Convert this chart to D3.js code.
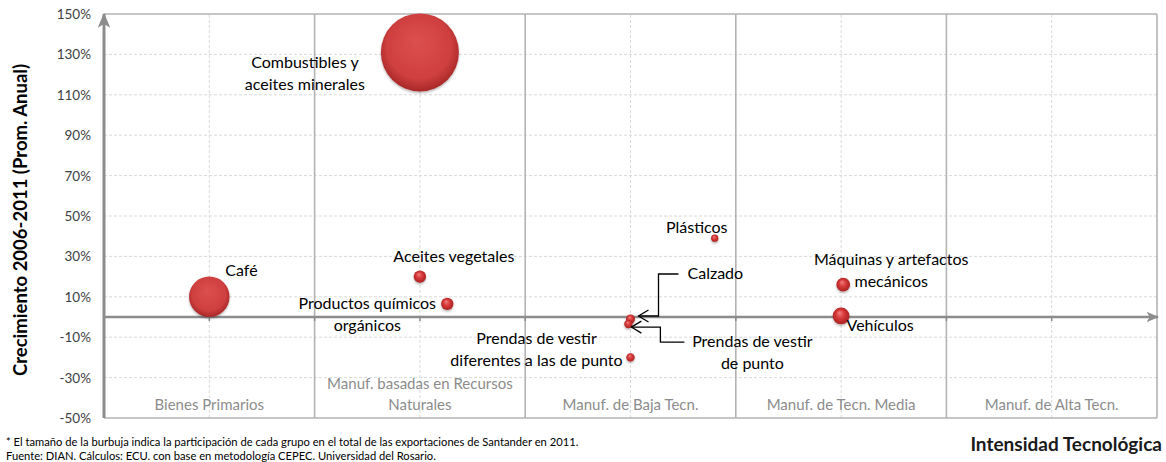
<!DOCTYPE html>
<html>
<head>
<meta charset="utf-8">
<script src="https://cdn.jsdelivr.net/npm/d3@7/dist/d3.min.js"></script>
<style>
  body { margin: 0; background: #fff; }
  svg { font-family: Lato, "Open Sans", sans-serif; }
</style>
</head>
<body>
<svg id="chart" width="1166" height="462"></svg>
<script>
"use strict"

// categories on the x axis (technology intensity)
var categories = [
	["Bienes Primarios"],
	["Manuf. basadas en Recursos", "Naturales"],
	["Manuf. de Baja Tecn."],
	["Manuf. de Tecn. Media"],
	["Manuf. de Alta Tecn."]
];

// product groups
var groups = [
	"Café",
	"Combustibles y aceites minerales",
	"Aceites vegetales",
	"Productos químicos orgánicos",
	"Plásticos",
	"Calzado",
	"Prendas de vestir de punto",
	"Prendas de vestir diferentes a las de punto",
	"Máquinas y artefactos mecánicos",
	"Vehículos"
];
var groupX  = [0.5, 1.5, 1.5, 1.63, 2.9, 2.5, 2.49, 2.5, 3.51, 3.5];
var growth  = [10, 131, 20, 6.5, 39, -1, -3.5, -20, 16, 0.5];      // % promedio anual
var share   = [14, 52, 1.3, 1.3, 0.45, 0.7, 0.6, 0.6, 1.6, 2.4];    // participación %

var yTicks = d3.range(-50, 151, 20);

// label layout: lines + offsets from bubble centre (px), anchor
var labels = [
	{lines: ["Café"],                                   dx: 16,   dy: -26, anchor: "start"},
	{lines: ["Combustibles y", "aceites minerales"],    dx: -115, dy: 11,  anchor: "middle"},
	{lines: ["Aceites vegetales"],                      dx: 34,   dy: -20, anchor: "middle"},
	{lines: ["Productos químicos", "orgánicos"],        dx: -80,  dy: 0,   anchor: "middle"},
	{lines: ["Plásticos"],                              dx: -18,  dy: -10, anchor: "middle"},
	{lines: ["Calzado"],                                dx: 57,   dy: -45, anchor: "start"},
	{lines: ["Prendas de vestir", "de punto"],          dx: 124,  dy: 18,  anchor: "middle"},
	{lines: ["Prendas de vestir", "diferentes a las de punto"], dx: -94, dy: -18, anchor: "middle"},
	{lines: ["Máquinas y artefactos", "mecánicos"],     dx: 48,   dy: -25, anchor: "middle"},
	{lines: ["Vehículos"],                              dx: 39,   dy: 10,  anchor: "middle"}
];

var svg = d3.select("#chart");
var margin = {left: 104, right: 9, top: 14, bottom: 44};
var W = 1166, H = 462;

var x = d3.scaleLinear().domain([0, 5]).range([margin.left, W - margin.right]);
var y = d3.scaleLinear().domain([-50, 150]).range([H - margin.bottom, margin.top]);
var r = d3.scaleSqrt().domain([0, d3.max(share)]).range([0, 39]);

var defs = svg.append("defs");
var grad = defs.append("radialGradient")
	.attr("id", "bubble")
	.attr("cx", "50%").attr("cy", "45%").attr("r", "55%")
	.attr("fx", "45%").attr("fy", "35%");
grad.append("stop").attr("offset", "0%").attr("stop-color", "#dc5050");
grad.append("stop").attr("offset", "75%").attr("stop-color", "#cf3f3f");
grad.append("stop").attr("offset", "100%").attr("stop-color", "#a82828");

var glossy = defs.append("radialGradient")
	.attr("id", "bubbleSmall")
	.attr("cx", "50%").attr("cy", "50%").attr("r", "55%")
	.attr("fx", "40%").attr("fy", "30%");
glossy.append("stop").attr("offset", "0%").attr("stop-color", "#f08080");
glossy.append("stop").attr("offset", "45%").attr("stop-color", "#d83a3a");
glossy.append("stop").attr("offset", "100%").attr("stop-color", "#a51e1e");

var shadow = defs.append("filter").attr("id", "shadow")
	.attr("x", "-30%").attr("y", "-30%").attr("width", "160%").attr("height", "160%");
shadow.append("feDropShadow").attr("dx", 0).attr("dy", 1.5)
	.attr("stdDeviation", 1.2).attr("flood-color", "#000").attr("flood-opacity", 0.3);

defs.append("marker")
	.attr("id", "axisArrow")
	.attr("viewBox", "0 0 12 10")
	.attr("refX", 11).attr("refY", 5)
	.attr("markerWidth", 5).attr("markerHeight", 5)
	.attr("markerUnits", "strokeWidth")
	.attr("orient", "auto")
	.append("path")
	.attr("d", "M0,0 L12,5 L0,10 L3,5 Z")
	.attr("fill", "#8c8c8c");

// grid
var grid = svg.append("g");
grid.selectAll(".hgrid")
	.data(yTicks.filter(function(d){ return d > -50 && d < 150; }))
	.enter().append("line")
	.attr("x1", x(0)).attr("x2", x(5))
	.attr("y1", function(d){ return y(d); })
	.attr("y2", function(d){ return y(d); })
	.attr("stroke", "#d9d9d9").attr("stroke-dasharray", "3,2");
grid.selectAll(".vgrid")
	.data(d3.range(0.5, 5, 1))
	.enter().append("line")
	.attr("y1", y(-50)).attr("y2", y(150))
	.attr("x1", function(d){ return x(d); })
	.attr("x2", function(d){ return x(d); })
	.attr("stroke", "#d9d9d9").attr("stroke-dasharray", "3,2");
grid.selectAll(".vsolid")
	.data(d3.range(1, 6, 1))
	.enter().append("line")
	.attr("y1", y(-50)).attr("y2", y(150))
	.attr("x1", function(d){ return x(d); })
	.attr("x2", function(d){ return x(d); })
	.attr("stroke", "#b3b3b3").attr("stroke-width", 1.6);
grid.append("line")
	.attr("x1", x(0)).attr("x2", x(5))
	.attr("y1", y(150)).attr("y2", y(150))
	.attr("stroke", "#b3b3b3").attr("stroke-width", 1.6);
grid.append("line")
	.attr("x1", x(0)).attr("x2", x(5))
	.attr("y1", y(-50)).attr("y2", y(-50))
	.attr("stroke", "#b3b3b3").attr("stroke-width", 1.6);

// category labels
categories.forEach(function(lines, i) {
	var t = svg.append("text")
		.attr("text-anchor", "middle")
		.attr("fill", "#8c8c8c")
		.style("font-size", "15px");
	lines.forEach(function(l, j) {
		t.append("tspan")
		 .attr("x", x(i + 0.5))
		 .attr("y", y(-50) - 8 - (lines.length - 1 - j) * 21)
		 .text(l);
	});
});

// zero axis with arrow
svg.append("line")
	.attr("x1", x(0)).attr("x2", x(5) + 1)
	.attr("y1", y(0)).attr("y2", y(0))
	.attr("stroke", "#8c8c8c").attr("stroke-width", 2.5)
	.attr("marker-end", "url(#axisArrow)");
svg.selectAll(".ztick")
	.data(d3.range(0.5, 5, 0.5))
	.enter().append("line")
	.attr("x1", function(d){ return x(d); })
	.attr("x2", function(d){ return x(d); })
	.attr("y1", y(0)).attr("y2", y(0) + 4)
	.attr("stroke", "#8c8c8c").attr("stroke-width", 1.5);

// y axis with arrow
svg.append("line")
	.attr("x1", x(0)).attr("x2", x(0))
	.attr("y1", y(-50)).attr("y2", y(150))
	.attr("stroke", "#8c8c8c").attr("stroke-width", 3)
	.attr("marker-end", "url(#axisArrow)");

// y tick labels
svg.selectAll(".ylab")
	.data(yTicks)
	.enter().append("text")
	.attr("x", x(0) - 13)
	.attr("y", function(d){ return y(d) + 5; })
	.attr("text-anchor", "end")
	.attr("fill", "#404040")
	.style("font-size", "13.5px")
	.text(function(d){ return d + "%"; });

// bubbles, largest first
var idx = d3.range(groups.length).sort(function(a, b){ return share[b] - share[a]; });
svg.append("g").selectAll("circle")
	.data(idx)
	.enter().append("circle")
	.attr("cx", function(i){ return x(groupX[i]); })
	.attr("cy", function(i){ return y(growth[i]); })
	.attr("r", function(i){ return r(share[i]); })
	.attr("fill", function(i){ return share[i] > 5 ? "url(#bubble)" : "url(#bubbleSmall)"; })
	.attr("filter", "url(#shadow)");

// labels
labels.forEach(function(lb, i) {
	var cx = x(groupX[i]), cy = y(growth[i]);
	var t = svg.append("text")
		.attr("text-anchor", lb.anchor)
		.attr("fill", "#000")
		.style("font-size", "16px");
	lb.lines.forEach(function(l, j) {
		t.append("tspan")
		 .attr("x", cx + lb.dx)
		 .attr("y", cy + lb.dy + 5 + j * 22)
		 .text(l);
	});
});

// connector arrows (Calzado, Prendas de vestir de punto)
function connector(i, pts) {
	var cx = x(groupX[i]), cy = y(growth[i]);
	var line = d3.line();
	var p = pts.map(function(q){ return [cx + q[0], cy + q[1]]; });
	svg.append("path")
	   .attr("d", line(p))
	   .attr("fill", "none").attr("stroke", "#000").attr("stroke-width", 1.3);
	var tip = p[p.length - 1];
	svg.append("path")
	   .attr("d", line([[tip[0] + 10, tip[1] - 6], tip, [tip[0] + 10, tip[1] + 6]]))
	   .attr("fill", "none").attr("stroke", "#000").attr("stroke-width", 1.3);
}
connector(5, [[48, -45], [28, -45], [28, -3], [8, -3]]);
connector(6, [[56, 18], [32, 18], [32, 3], [3, 3]]);

// axis titles
svg.append("text")
	.attr("transform", "translate(27," + (y(50) + 4) + ") rotate(-90)")
	.attr("text-anchor", "middle")
	.style("font-size", "18.5px").style("font-weight", "bold")
	.text("Crecimiento 2006-2011 (Prom. Anual)");

svg.append("text")
	.attr("x", 1162).attr("y", 451)
	.attr("text-anchor", "end")
	.style("font-size", "19px").style("font-weight", "bold")
	.attr("fill", "#1a1a1a")
	.text("Intensidad Tecnológica");

// footnotes
svg.append("text")
	.attr("x", 6).attr("y", 446)
	.style("font-size", "11.2px")
	.text("* El tamaño de la burbuja indica la participación de cada grupo en el total de las exportaciones de Santander en 2011.");
svg.append("text")
	.attr("x", 6).attr("y", 460)
	.style("font-size", "11.2px")
	.text("Fuente: DIAN. Cálculos: ECU. con base en metodología CEPEC. Universidad del Rosario.");
</script>
</body>
</html>
